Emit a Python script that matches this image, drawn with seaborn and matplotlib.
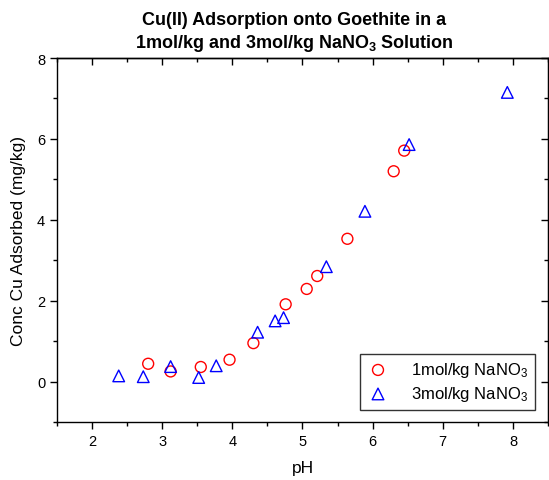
import matplotlib
matplotlib.use('Agg')
import matplotlib.pyplot as plt
import seaborn as sns
from matplotlib.ticker import MultipleLocator

# 1 mol/kg NaNO3 series
ph_1mol = [2.80, 3.12, 3.55, 3.96, 4.30, 4.76, 5.06, 5.21, 5.64, 6.30, 6.45]
cu_1mol = [0.44, 0.25, 0.36, 0.54, 0.95, 1.91, 2.29, 2.61, 3.53, 5.20, 5.71]

# 3 mol/kg NaNO3 series
ph_3mol = [2.38, 2.73, 3.12, 3.52, 3.77, 4.36, 4.61, 4.73, 5.34, 5.89, 6.52, 7.92]
cu_3mol = [0.14, 0.12, 0.37, 0.10, 0.39, 1.22, 1.50, 1.58, 2.84, 4.21, 5.86, 7.15]

sns.set_style('ticks')
plt.rcParams['font.family'] = ['Liberation Sans', 'DejaVu Sans']
plt.rcParams['mathtext.fontset'] = 'custom'
plt.rcParams['mathtext.rm'] = 'Liberation Sans'
plt.rcParams['mathtext.bf'] = 'Liberation Sans:bold'
plt.rcParams['mathtext.default'] = 'regular'
for k in ['text.color', 'axes.labelcolor', 'xtick.color', 'ytick.color', 'axes.edgecolor']:
    plt.rcParams[k] = 'black'

fig = plt.figure(figsize=(5.49, 4.81), dpi=100)
ax = fig.add_axes([0.1038, 0.1206, 0.8944, 0.7567])

sns.scatterplot(x=ph_1mol, y=cu_1mol, ax=ax, marker='o', s=62, color='red',
                facecolors='none', edgecolor='red', linewidth=1.0,
                label='1mol/kg NaNO$_3$')
sns.scatterplot(x=ph_3mol, y=cu_3mol, ax=ax, marker='^', s=70, color='blue',
                facecolors='none', edgecolor='blue', linewidth=1.0,
                label='3mol/kg NaNO$_3$')

ax.set_xlim(1.5, 8.5)
ax.set_ylim(-1, 8)
ax.xaxis.set_major_locator(MultipleLocator(1))
ax.xaxis.set_minor_locator(MultipleLocator(0.5))
ax.yaxis.set_major_locator(MultipleLocator(2))
ax.yaxis.set_minor_locator(MultipleLocator(1))
ax.set_xticks([2, 3, 4, 5, 6, 7, 8])

for sp in ax.spines.values():
    sp.set_visible(True)
    sp.set_color('black')
    sp.set_linewidth(1.0)

ax.tick_params(which='both', direction='out', colors='black', labelsize=10.5, width=1.0)
ax.tick_params(which='major', length=5)
ax.tick_params(which='minor', length=3)

# top and right ticks point inward, no labels
top = ax.secondary_xaxis('top')
top.xaxis.set_major_locator(MultipleLocator(1))
top.xaxis.set_minor_locator(MultipleLocator(0.5))
top.tick_params(which='both', direction='in', labeltop=False, width=1.0)
top.tick_params(which='major', length=5)
top.tick_params(which='minor', length=3)
top.spines['top'].set_linewidth(1.0)

right = ax.secondary_yaxis('right')
right.yaxis.set_major_locator(MultipleLocator(2))
right.yaxis.set_minor_locator(MultipleLocator(1))
right.tick_params(which='both', direction='in', labelright=False, width=1.0)
right.tick_params(which='major', length=5)
right.tick_params(which='minor', length=3)

ax.set_xlabel('pH', fontsize=12.5, labelpad=9)
ax.set_ylabel('Conc Cu Adsorbed (mg/kg)', fontsize=12.5, labelpad=8)
ax.set_title('Cu(II) Adsorption onto Goethite in a\n1mol/kg and 3mol/kg NaNO$_\\mathbf{3}$ Solution',
             fontsize=13, fontweight='bold', pad=8, x=0.483, linespacing=1.25)

leg = ax.legend(loc='lower right', bbox_to_anchor=(0.9736, 0.033), borderaxespad=0,
                fontsize=12, frameon=True, fancybox=False, edgecolor='black',
                handlelength=1.4, handletextpad=1.3, borderpad=0.4, labelspacing=0.3)
leg.get_frame().set_linewidth(1.0)

fig.savefig('out.png', dpi=100)
